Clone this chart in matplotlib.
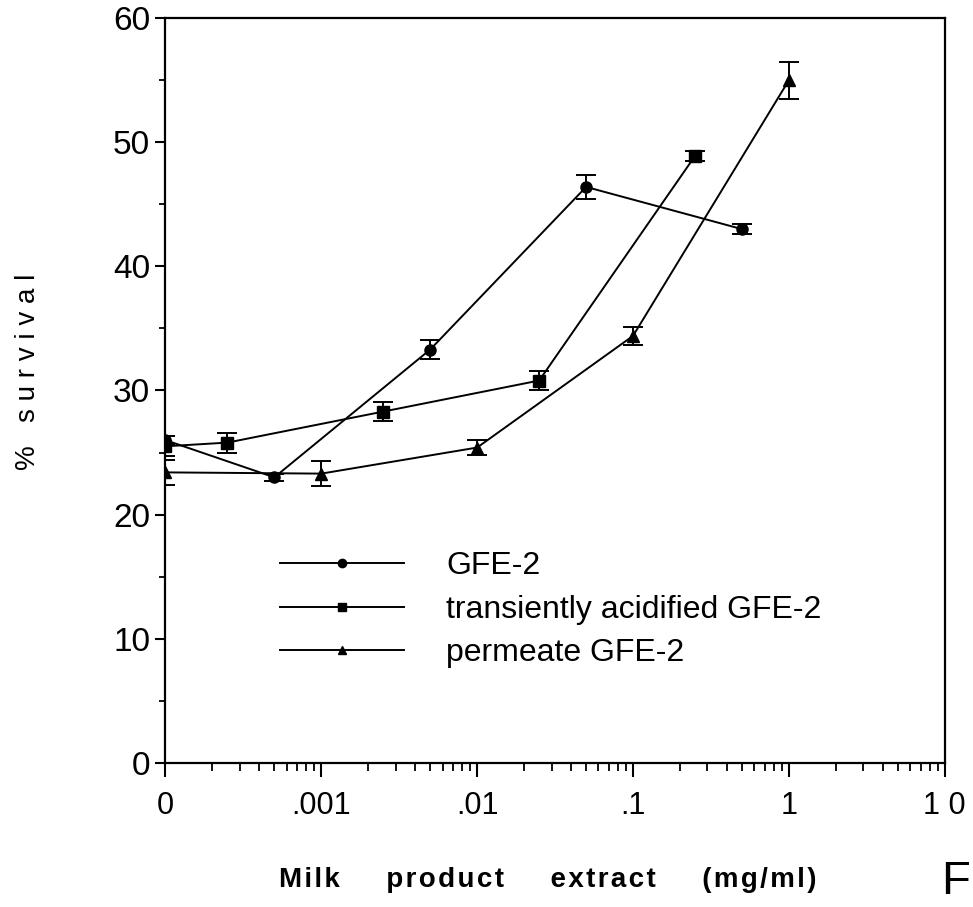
import numpy as np
import matplotlib
matplotlib.use("Agg")
import matplotlib.pyplot as plt
from matplotlib.lines import Line2D
from matplotlib.ticker import FixedLocator, NullFormatter

plt.rcParams['font.family'] = ['Liberation Sans', 'DejaVu Sans']

# GFE-2
gfe_x = [0.0001, 0.0005, 0.005, 0.05, 0.5]
gfe_y = [26.0, 23.0, 33.3, 46.4, 43.0]
gfe_err = [0.3, 0.3, 0.8, 1.0, 0.4]

# transiently acidified GFE-2
acid_x = [0.0001, 0.00025, 0.0025, 0.025, 0.25]
acid_y = [25.5, 25.8, 28.3, 30.8, 48.9]
acid_err = [0.8, 0.8, 0.8, 0.8, 0.4]

# permeate GFE-2
perm_x = [0.0001, 0.001, 0.01, 0.1, 1.0]
perm_y = [23.4, 23.3, 25.4, 34.4, 55.0]
perm_err = [1.0, 1.0, 0.6, 0.7, 1.5]

x_ticks = [0.0001, 0.001, 0.01, 0.1, 1, 10]
x_labels = ['0', '.001', '.01', '.1', '1', '1 0']
y_ticks = [0, 10, 20, 30, 40, 50, 60]

fig = plt.figure(figsize=(9.73, 9.07), dpi=100)
ax = fig.add_axes([0.170, 0.159, 0.801, 0.821])

series = [
    (gfe_x, gfe_y, gfe_err, 'o', 'GFE-2'),
    (acid_x, acid_y, acid_err, 's', 'transiently acidified GFE-2'),
    (perm_x, perm_y, perm_err, '^', 'permeate GFE-2'),
]
handles = []
for xs, ys, es, m, lab in series:
    ax.errorbar(xs, ys, yerr=es, color='black', lw=1.4, marker=m, ms=8,
                capsize=7, capthick=1.4, elinewidth=1.4)
    handles.append(Line2D([], [], color='black', lw=1.4, marker=m, ms=6,
                          label=lab))

ax.set_xscale('log')
ax.set_xlim(0.0001, 10)
ax.set_ylim(0, 60)
ax.xaxis.set_major_locator(FixedLocator(x_ticks))
ax.set_xticklabels(x_labels)
minors = [d * m for d in [0.0001, 0.001, 0.01, 0.1, 1] for m in range(2, 10)]
ax.xaxis.set_minor_locator(FixedLocator(minors))
ax.xaxis.set_minor_formatter(NullFormatter())
ax.set_yticks(y_ticks)
ax.set_yticks([5, 15, 25, 35, 45, 55], minor=True)

ax.tick_params(axis='x', which='major', direction='out', length=10, width=1.5,
               labelsize=22, pad=10)
ax.tick_params(axis='x', which='minor', direction='out', length=6, width=1.3)
ax.tick_params(axis='y', which='major', direction='out', length=7, width=1.5,
               labelsize=24, pad=4)
ax.tick_params(axis='y', which='minor', direction='out', length=4, width=1.3)
for sp in ax.spines.values():
    sp.set_linewidth(1.6)

# letter-spaced axis title
words = ['Milk', 'product', 'extract', '(mg/ml)']
xlab = '      '.join('\u200a'.join(w) for w in words)
ax.set_xlabel(xlab, fontsize=20, fontweight='bold')
ax.xaxis.set_label_coords(0.49, -0.14)
ax.set_ylabel('%   s u r v i v a l', fontsize=20)
ax.yaxis.set_label_coords(-0.16, 0.525)

leg = ax.legend(handles=handles, loc='upper left', bbox_to_anchor=(0.11, 0.323),
                frameon=False, fontsize=23, handlelength=3.9, handletextpad=1.3,
                labelspacing=0.43, numpoints=1)

fig.text(0.982, 0.028, 'F', fontsize=34, ha='center', va='center')

fig.savefig('out.png', dpi=100)
